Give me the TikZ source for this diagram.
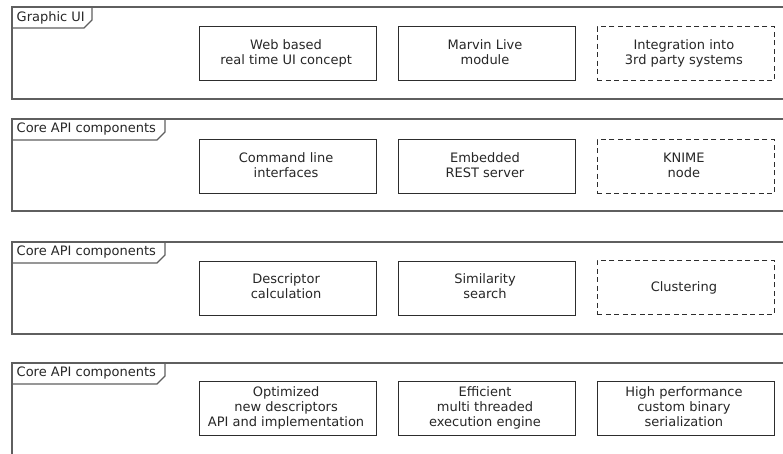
\documentclass[tikz,border=0pt]{standalone}
\usepackage{fontspec}
\setmainfont{DejaVu Sans}
\usetikzlibrary{matrix}

\definecolor{framegray}{RGB}{95,95,95}
\definecolor{boxgray}{RGB}{45,45,45}
\newcommand{\mlines}[1]{\begin{tabular}{@{}c@{}}#1\end{tabular}}
\tikzset{
  component/.style={draw=boxgray, line width=0.9pt, align=center, text=black!85,
                    minimum width=177pt, minimum height=54pt, inner sep=2pt},
  planned/.style={dash pattern=on 5pt off 3.5pt},
  frameline/.style={draw=framegray, line width=1.1pt},
  framelabel/.style={anchor=west, inner sep=0pt, text=black!85}
}

\begin{document}
\begin{tikzpicture}[x=1pt, y=-1pt, font=\fontsize{13}{15}\selectfont]
  \useasboundingbox (0,0) rectangle (783,454);
  \clip (0,0) rectangle (783,454);

  % the layers, top to bottom
  \foreach \ft/\fb/\tx/\lbl [count=\i] in {7/99/92/Graphic UI,
      119/211/165/Core API components, 242/334/165/Core API components,
      363/480/165/Core API components} {
    \draw[frameline] (795,\ft) -- (12,\ft) -- (12,\fb) -- (795,\fb);
    \draw[frameline] (12,\ft+21) -- (\tx-8,\ft+21) -- (\tx,\ft+13) -- (\tx,\ft);
    \node[framelabel] (layer-\i) at (16.5,\ft+10.5) {\lbl};
  }

  \matrix (m) [ampersand replacement=\&, matrix of nodes, anchor=north west,
               inner sep=0pt, row sep=58pt, column sep=21pt,
               nodes={component}] at (199,26) {
    \mlines{Web based\\real time UI concept} \& \mlines{Marvin Live\\module} \&
      |[planned]| \mlines{Integration into\\3rd party systems} \\
    \mlines{Command line\\interfaces} \& \mlines{Embedded\\REST server} \&
      |[planned]| \mlines{KNIME\\node} \\[8pt]
    \mlines{Descriptor\\calculation} \& \mlines{Similarity\\search} \&
      |[planned]| Clustering \\[8pt]
    \mlines{Optimized\\new descriptors\\API and implementation} \&
      \mlines{Efficient\\multi threaded\\execution engine} \&
      \mlines{High performance\\custom binary\\serialization} \\
  };
\end{tikzpicture}
\end{document}
